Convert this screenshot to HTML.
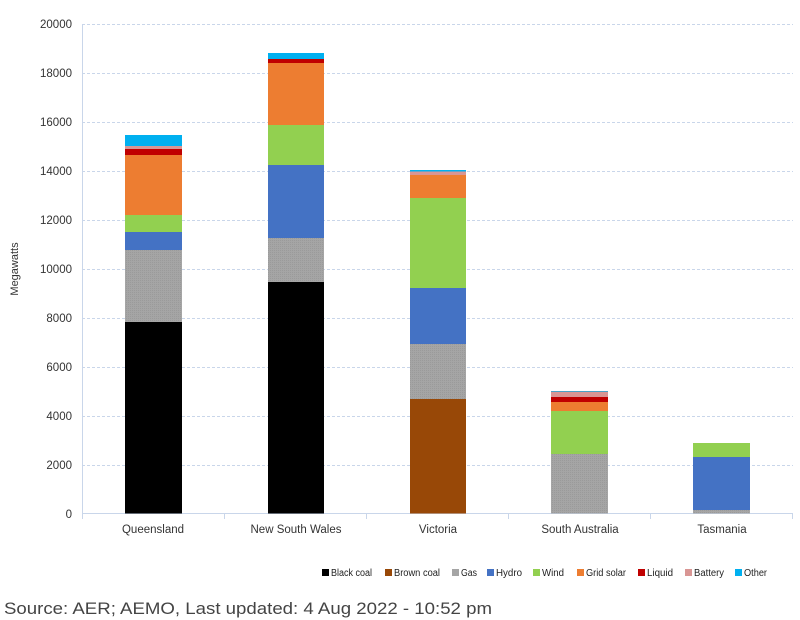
<!DOCTYPE html>
<html><head><meta charset="utf-8"><style>
body{margin:0;background:#fff;}
svg{display:block;font-family:"Liberation Sans",sans-serif;}
</style></head><body>
<svg width="800" height="620" xmlns="http://www.w3.org/2000/svg">
<defs>
<pattern id="g" width="2" height="2" patternUnits="userSpaceOnUse">
<rect width="2" height="2" fill="#a5a5a5"/><rect width="1" height="1" fill="#9a9a9a"/></pattern>
</defs>
<g stroke="#c9d6ea" stroke-dasharray="3,2" stroke-width="1">
<line x1="82" x2="793" y1="24.5" y2="24.5"/><line x1="82" x2="793" y1="73.5" y2="73.5"/>
<line x1="82" x2="793" y1="122.5" y2="122.5"/><line x1="82" x2="793" y1="171.5" y2="171.5"/>
<line x1="82" x2="793" y1="220.5" y2="220.5"/><line x1="82" x2="793" y1="269.5" y2="269.5"/>
<line x1="82" x2="793" y1="318.5" y2="318.5"/><line x1="82" x2="793" y1="367.5" y2="367.5"/>
<line x1="82" x2="793" y1="416.5" y2="416.5"/><line x1="82" x2="793" y1="465.5" y2="465.5"/>
</g>
<g stroke="#c9d6ea" stroke-width="1">
<line x1="82.5" x2="82.5" y1="24" y2="514"/>
<line x1="82" x2="793" y1="513.5" y2="513.5"/>
<line x1="224.5" x2="224.5" y1="514" y2="519"/><line x1="366.5" x2="366.5" y1="514" y2="519"/>
<line x1="508.5" x2="508.5" y1="514" y2="519"/><line x1="650.5" x2="650.5" y1="514" y2="519"/>
<line x1="792.5" x2="792.5" y1="514" y2="519"/><line x1="82.5" x2="82.5" y1="514" y2="519"/>
</g>
<g font-size="11.5" fill="#333" text-anchor="end">
<text x="72" y="28">20000</text><text x="72" y="77">18000</text><text x="72" y="126">16000</text>
<text x="72" y="175">14000</text><text x="72" y="224">12000</text><text x="72" y="273">10000</text>
<text x="72" y="322">8000</text><text x="72" y="371">6000</text><text x="72" y="420">4000</text>
<text x="72" y="469">2000</text><text x="72" y="518">0</text>
</g>
<text transform="translate(18,269) rotate(-90)" font-size="11" fill="#333" text-anchor="middle">Megawatts</text>
<g font-size="11.5" fill="#333" text-anchor="middle">
<text x="153" y="533">Queensland</text><text x="296" y="533">New South Wales</text>
<text x="438" y="533">Victoria</text><text x="580" y="533">South Australia</text>
<text x="722" y="533">Tasmania</text>
</g>
<!-- Queensland -->
<rect x="125" y="135" width="57" height="11" fill="#00b0f0"/>
<rect x="125" y="146" width="57" height="3" fill="#d99694"/>
<rect x="125" y="149" width="57" height="6" fill="#c00000"/>
<rect x="125" y="155" width="57" height="60" fill="#ed7d31"/>
<rect x="125" y="215" width="57" height="17" fill="#92d050"/>
<rect x="125" y="232" width="57" height="18" fill="#4472c4"/>
<rect x="125" y="250" width="57" height="72" fill="url(#g)"/>
<rect x="125" y="322" width="57" height="191.5" fill="#000"/>
<!-- NSW -->
<rect x="268" y="53" width="56" height="6" fill="#00b0f0"/>
<rect x="268" y="59" width="56" height="4" fill="#c00000"/>
<rect x="268" y="63" width="56" height="62" fill="#ed7d31"/>
<rect x="268" y="125" width="56" height="40" fill="#92d050"/>
<rect x="268" y="165" width="56" height="73" fill="#4472c4"/>
<rect x="268" y="238" width="56" height="44" fill="url(#g)"/>
<rect x="268" y="282" width="56" height="231.5" fill="#000"/>
<!-- Victoria -->
<rect x="410" y="170" width="56" height="1.5" fill="#00b0f0"/>
<rect x="410" y="171.5" width="56" height="3.5" fill="#d99694"/>
<rect x="410" y="175" width="56" height="23" fill="#ed7d31"/>
<rect x="410" y="198" width="56" height="90" fill="#92d050"/>
<rect x="410" y="288" width="56" height="56" fill="#4472c4"/>
<rect x="410" y="344" width="56" height="55" fill="url(#g)"/>
<rect x="410" y="399" width="56" height="114.5" fill="#984807"/>
<!-- SA -->
<rect x="551" y="391" width="57" height="1" fill="#4aa3c8"/>
<rect x="551" y="392" width="57" height="5" fill="#d99694"/>
<rect x="551" y="397" width="57" height="5" fill="#c00000"/>
<rect x="551" y="402" width="57" height="9" fill="#ed7d31"/>
<rect x="551" y="411" width="57" height="43" fill="#92d050"/>
<rect x="551" y="454" width="57" height="59.5" fill="url(#g)"/>
<!-- Tasmania -->
<rect x="693" y="443" width="57" height="14" fill="#92d050"/>
<rect x="693" y="457" width="57" height="53" fill="#4472c4"/>
<rect x="693" y="510" width="57" height="3.5" fill="url(#g)"/>
<!-- Legend -->
<g font-size="10" fill="#222">
<rect x="322" y="569" width="7" height="7" fill="#000"/><text x="331" y="576" textLength="41" lengthAdjust="spacingAndGlyphs">Black coal</text>
<rect x="385" y="569" width="7" height="7" fill="#984807"/><text x="394" y="576" textLength="46" lengthAdjust="spacingAndGlyphs">Brown coal</text>
<rect x="452" y="569" width="7" height="7" fill="#a5a5a5"/><text x="461" y="576" textLength="16" lengthAdjust="spacingAndGlyphs">Gas</text>
<rect x="487" y="569" width="7" height="7" fill="#4472c4"/><text x="496" y="576" textLength="26" lengthAdjust="spacingAndGlyphs">Hydro</text>
<rect x="533" y="569" width="7" height="7" fill="#92d050"/><text x="542" y="576" textLength="22" lengthAdjust="spacingAndGlyphs">Wind</text>
<rect x="577" y="569" width="7" height="7" fill="#ed7d31"/><text x="586" y="576" textLength="40" lengthAdjust="spacingAndGlyphs">Grid solar</text>
<rect x="638" y="569" width="7" height="7" fill="#c00000"/><text x="647" y="576" textLength="26" lengthAdjust="spacingAndGlyphs">Liquid</text>
<rect x="685" y="569" width="7" height="7" fill="#d99694"/><text x="694" y="576" textLength="30" lengthAdjust="spacingAndGlyphs">Battery</text>
<rect x="735" y="569" width="7" height="7" fill="#00b0f0"/><text x="744" y="576" textLength="23" lengthAdjust="spacingAndGlyphs">Other</text>
</g>
<text x="4" y="614" font-size="17" fill="#444" textLength="488" lengthAdjust="spacingAndGlyphs">Source: AER; AEMO, Last updated: 4 Aug 2022 - 10:52 pm</text>
</svg>
</body></html>
